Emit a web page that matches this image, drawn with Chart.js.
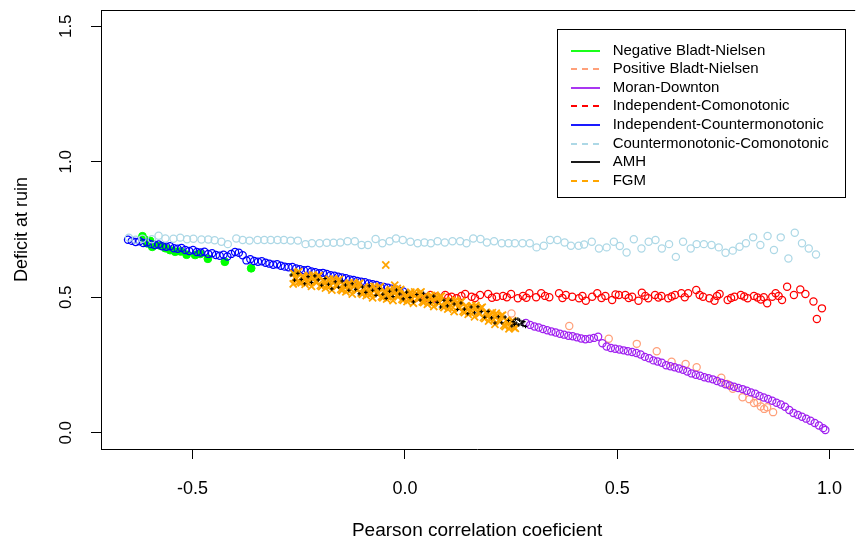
<!DOCTYPE html>
<html><head><meta charset="utf-8">
<script src="https://cdn.jsdelivr.net/npm/chart.js@4.4.1/dist/chart.umd.min.js"></script>
<style>html,body{margin:0;padding:0;background:#fff}canvas{display:block}</style>
</head><body>
<canvas id="c" width="860" height="542"></canvas>
<script>
// ---------- data ----------
const seriesNames = ["Negative Bladt-Nielsen","Positive Bladt-Nielsen","Moran-Downton","Independent-Comonotonic","Independent-Countermonotonic","Countermonotonic-Comonotonic","AMH","FGM"];
const seriesColors = ["#00FF00","#FFA07A","#A020F0","#FF0000","#0000FF","#ADD8E6","#000000","#FFA500"];
const seriesDashed = [false,true,false,true,false,true,false,true];
const xTickValues = [-0.5,0,0.5,1];
const yTickValues = [0,0.5,1,1.5];
const xTitle = "Pearson correlation coeficient";
const yTitle = "Deficit at ruin";

// Negative Bladt-Nielsen (filled green)
const nbX = [-0.618,-0.612,-0.607,-0.600,-0.595,-0.588,-0.575,-0.564,-0.553,-0.541,-0.528,-0.514,-0.494,-0.482,-0.464,-0.424,-0.362,-0.257];
const nbY = [0.725,0.712,0.699,0.708,0.686,0.693,0.690,0.681,0.674,0.668,0.669,0.657,0.656,0.660,0.642,0.631,0.607,0.589];

// Positive Bladt-Nielsen (salmon)
const pbX = [0.251,0.387,0.480,0.546,0.593,0.628,0.661,0.687,0.745,0.759,0.772,0.795,0.811,0.822,0.830,0.838,0.846,0.853,0.867];
const pbY = [0.440,0.394,0.347,0.328,0.301,0.262,0.254,0.242,0.203,0.180,0.162,0.131,0.124,0.110,0.112,0.097,0.088,0.094,0.076];

// Moran-Downton (purple)
const mdX = [0.285,0.295,0.305,0.315,0.325,0.335,0.345,0.355,0.365,0.375,0.385,0.395,0.405,0.415,0.425,0.435,0.445,0.455,0.465,0.475,0.485,0.495,0.505,0.515,0.525,0.535,0.545,0.555,0.565,0.575,0.585,0.595,0.605,0.615,0.625,0.635,0.645,0.655,0.665,0.675,0.685,0.695,0.705,0.715,0.725,0.735,0.745,0.755,0.765,0.775,0.785,0.795,0.805,0.815,0.825,0.835,0.845,0.855,0.865,0.875,0.885,0.895,0.905,0.915,0.925,0.935,0.945,0.955,0.965,0.975,0.985,0.990];
const mdY = [0.405,0.398,0.392,0.388,0.383,0.378,0.374,0.370,0.365,0.362,0.358,0.356,0.352,0.348,0.345,0.347,0.350,0.354,0.330,0.318,0.313,0.310,0.307,0.304,0.301,0.298,0.294,0.289,0.280,0.275,0.267,0.263,0.258,0.249,0.245,0.242,0.237,0.232,0.226,0.219,0.214,0.210,0.205,0.201,0.197,0.191,0.185,0.179,0.174,0.170,0.165,0.161,0.155,0.149,0.144,0.136,0.130,0.125,0.118,0.111,0.104,0.096,0.084,0.073,0.066,0.059,0.052,0.044,0.036,0.027,0.017,0.010];

// Independent-Comonotonic (red)
const icoX = [0.000,0.012,0.024,0.036,0.048,0.060,0.067,0.075,0.095,0.102,0.110,0.122,0.133,0.142,0.157,0.165,0.177,0.196,0.205,0.216,0.231,0.240,0.250,0.266,0.278,0.286,0.293,0.309,0.321,0.330,0.340,0.363,0.371,0.379,0.394,0.410,0.418,0.426,0.441,0.453,0.463,0.472,0.488,0.496,0.504,0.519,0.527,0.535,0.550,0.558,0.566,0.573,0.589,0.597,0.604,0.620,0.628,0.636,0.651,0.659,0.667,0.686,0.694,0.702,0.717,0.729,0.735,0.741,0.760,0.768,0.776,0.791,0.799,0.807,0.822,0.830,0.838,0.845,0.853,0.865,0.873,0.880,0.888,0.900,0.916,0.931,0.943,0.962,0.970,0.982];
const icoY = [0.500,0.505,0.497,0.503,0.498,0.508,0.495,0.502,0.508,0.498,0.502,0.496,0.505,0.512,0.502,0.497,0.508,0.512,0.498,0.502,0.505,0.500,0.512,0.496,0.505,0.498,0.515,0.500,0.515,0.505,0.500,0.515,0.497,0.508,0.502,0.496,0.505,0.487,0.502,0.515,0.497,0.505,0.490,0.510,0.508,0.508,0.497,0.502,0.487,0.517,0.505,0.496,0.508,0.499,0.505,0.496,0.503,0.508,0.515,0.500,0.515,0.527,0.508,0.502,0.496,0.487,0.505,0.512,0.490,0.497,0.502,0.508,0.503,0.496,0.505,0.499,0.492,0.500,0.478,0.502,0.515,0.505,0.490,0.539,0.508,0.529,0.512,0.484,0.420,0.459];

// Independent-Countermonotonic (blue)
const icmX = [-0.652,-0.643,-0.634,-0.625,-0.616,-0.607,-0.598,-0.589,-0.580,-0.571,-0.562,-0.553,-0.544,-0.535,-0.526,-0.517,-0.508,-0.499,-0.490,-0.481,-0.472,-0.463,-0.454,-0.445,-0.436,-0.427,-0.418,-0.409,-0.400,-0.391,-0.382,-0.373,-0.364,-0.355,-0.346,-0.337,-0.328,-0.319,-0.310,-0.301,-0.292,-0.283,-0.274,-0.265,-0.256,-0.247,-0.238,-0.229,-0.220,-0.211,-0.202,-0.193,-0.184,-0.175,-0.166,-0.157,-0.148,-0.139,-0.130,-0.121,-0.112,-0.103,-0.094,-0.085,-0.076,-0.067,-0.058,-0.049,-0.040,-0.031,-0.022,-0.013,-0.004];
const icmY = [0.712,0.708,0.704,0.707,0.700,0.702,0.696,0.693,0.695,0.688,0.686,0.688,0.681,0.679,0.682,0.674,0.671,0.674,0.667,0.665,0.668,0.660,0.662,0.656,0.653,0.657,0.650,0.660,0.667,0.664,0.655,0.636,0.640,0.634,0.631,0.633,0.627,0.624,0.620,0.622,0.616,0.613,0.611,0.612,0.606,0.603,0.600,0.601,0.595,0.592,0.589,0.590,0.586,0.581,0.579,0.576,0.573,0.570,0.566,0.564,0.560,0.557,0.555,0.551,0.548,0.545,0.541,0.538,0.535,0.531,0.528,0.524,0.521];

// Countermonotonic-Comonotonic (light blue)
const ccX = [-0.650,-0.634,-0.618,-0.596,-0.580,-0.564,-0.545,-0.529,-0.513,-0.498,-0.479,-0.463,-0.448,-0.432,-0.417,-0.397,-0.382,-0.366,-0.347,-0.331,-0.316,-0.300,-0.285,-0.269,-0.252,-0.234,-0.219,-0.201,-0.184,-0.168,-0.152,-0.135,-0.118,-0.102,-0.087,-0.069,-0.053,-0.036,-0.021,-0.005,0.013,0.030,0.046,0.061,0.077,0.094,0.112,0.130,0.145,0.161,0.178,0.193,0.210,0.228,0.244,0.259,0.277,0.294,0.310,0.327,0.342,0.359,0.376,0.391,0.409,0.422,0.440,0.457,0.475,0.492,0.506,0.522,0.539,0.557,0.574,0.590,0.605,0.622,0.638,0.655,0.673,0.687,0.704,0.722,0.739,0.755,0.772,0.788,0.803,0.820,0.837,0.854,0.869,0.885,0.903,0.918,0.935,0.951,0.968];
const ccY = [0.720,0.712,0.716,0.714,0.727,0.717,0.716,0.720,0.714,0.716,0.713,0.713,0.710,0.705,0.696,0.717,0.711,0.709,0.711,0.711,0.711,0.711,0.711,0.709,0.709,0.696,0.699,0.699,0.701,0.701,0.702,0.707,0.707,0.693,0.693,0.715,0.699,0.707,0.717,0.711,0.705,0.699,0.702,0.699,0.707,0.702,0.707,0.707,0.699,0.717,0.715,0.702,0.707,0.699,0.699,0.699,0.699,0.699,0.684,0.690,0.711,0.711,0.702,0.690,0.690,0.695,0.705,0.680,0.684,0.705,0.689,0.665,0.714,0.680,0.705,0.711,0.680,0.696,0.649,0.705,0.680,0.696,0.696,0.693,0.684,0.664,0.672,0.686,0.699,0.721,0.693,0.726,0.674,0.721,0.643,0.738,0.699,0.680,0.658];

// AMH (black)
const amhX = [-0.268,-0.260,-0.252,-0.244,-0.236,-0.228,-0.220,-0.212,-0.204,-0.196,-0.188,-0.180,-0.172,-0.164,-0.156,-0.148,-0.140,-0.132,-0.124,-0.116,-0.108,-0.100,-0.092,-0.084,-0.076,-0.068,-0.060,-0.052,-0.044,-0.036,-0.028,-0.020,-0.012,-0.004,0.004,0.012,0.020,0.028,0.036,0.044,0.052,0.060,0.068,0.076,0.084,0.092,0.100,0.108,0.116,0.124,0.132,0.140,0.148,0.156,0.164,0.172,0.180,0.188,0.196,0.204,0.212,0.220,0.228,0.236,0.244,0.252,0.255,0.258,0.260,0.262,0.266,0.268,0.270,0.274,0.276,0.278,0.280,0.284];
const amhY = [0.582,0.563,0.588,0.566,0.550,0.576,0.555,0.579,0.564,0.544,0.569,0.548,0.531,0.557,0.537,0.560,0.545,0.526,0.550,0.529,0.513,0.538,0.518,0.542,0.526,0.507,0.532,0.511,0.496,0.522,0.503,0.527,0.512,0.494,0.519,0.499,0.483,0.510,0.490,0.515,0.500,0.480,0.504,0.481,0.464,0.489,0.468,0.489,0.475,0.455,0.479,0.456,0.439,0.464,0.443,0.465,0.447,0.426,0.448,0.424,0.405,0.428,0.406,0.427,0.414,0.394,0.410,0.400,0.419,0.405,0.420,0.398,0.415,0.402,0.409,0.396,0.410,0.392];

// FGM (orange)
const fgmX = [-0.263,-0.262,-0.259,-0.256,-0.253,-0.251,-0.250,-0.247,-0.244,-0.241,-0.238,-0.235,-0.232,-0.229,-0.226,-0.223,-0.220,-0.217,-0.214,-0.211,-0.208,-0.205,-0.202,-0.199,-0.196,-0.193,-0.190,-0.187,-0.184,-0.181,-0.178,-0.175,-0.172,-0.169,-0.166,-0.163,-0.160,-0.157,-0.154,-0.151,-0.148,-0.145,-0.142,-0.139,-0.136,-0.133,-0.130,-0.127,-0.124,-0.121,-0.118,-0.115,-0.112,-0.109,-0.106,-0.103,-0.100,-0.097,-0.094,-0.091,-0.088,-0.085,-0.082,-0.079,-0.076,-0.073,-0.070,-0.067,-0.064,-0.061,-0.058,-0.055,-0.052,-0.049,-0.046,-0.045,-0.043,-0.040,-0.037,-0.034,-0.031,-0.028,-0.025,-0.024,-0.022,-0.019,-0.018,-0.016,-0.013,-0.010,-0.007,-0.004,-0.001,0.002,0.005,0.008,0.011,0.014,0.017,0.020,0.023,0.026,0.029,0.032,0.035,0.038,0.041,0.044,0.047,0.050,0.053,0.056,0.059,0.062,0.065,0.068,0.071,0.074,0.077,0.080,0.083,0.086,0.089,0.092,0.095,0.098,0.101,0.104,0.107,0.110,0.113,0.116,0.119,0.122,0.125,0.128,0.131,0.134,0.137,0.140,0.143,0.146,0.149,0.152,0.155,0.158,0.161,0.164,0.167,0.170,0.173,0.176,0.179,0.182,0.185,0.188,0.191,0.194,0.197,0.200,0.203,0.206,0.209,0.212,0.215,0.218,0.221,0.224,0.227,0.230,0.233,0.236,0.239,0.242,0.245,0.248,0.251,0.254,0.257,0.260];
const fgmY = [0.549,0.588,0.572,0.568,0.591,0.557,0.594,0.557,0.553,0.577,0.573,0.548,0.556,0.576,0.581,0.556,0.540,0.582,0.574,0.558,0.554,0.577,0.580,0.543,0.539,0.563,0.559,0.534,0.542,0.562,0.567,0.542,0.526,0.568,0.560,0.544,0.540,0.563,0.566,0.529,0.525,0.549,0.545,0.520,0.528,0.548,0.553,0.528,0.512,0.554,0.546,0.530,0.526,0.549,0.552,0.515,0.511,0.535,0.531,0.506,0.514,0.534,0.539,0.514,0.498,0.540,0.531,0.515,0.512,0.535,0.539,0.502,0.498,0.522,0.518,0.619,0.493,0.502,0.522,0.528,0.503,0.488,0.530,0.545,0.522,0.506,0.533,0.502,0.525,0.529,0.492,0.489,0.513,0.509,0.484,0.493,0.513,0.519,0.494,0.478,0.520,0.512,0.496,0.493,0.516,0.520,0.483,0.480,0.504,0.499,0.474,0.482,0.502,0.507,0.482,0.466,0.508,0.498,0.482,0.478,0.501,0.504,0.467,0.462,0.486,0.481,0.456,0.464,0.484,0.488,0.463,0.447,0.489,0.479,0.463,0.459,0.482,0.485,0.448,0.443,0.467,0.462,0.437,0.445,0.465,0.469,0.444,0.428,0.470,0.460,0.443,0.439,0.461,0.463,0.425,0.421,0.444,0.438,0.412,0.419,0.438,0.443,0.417,0.400,0.441,0.432,0.415,0.410,0.432,0.434,0.396,0.392,0.415,0.409,0.383,0.390,0.409,0.414,0.388,0.385];

// ---------- chart ----------
const FONT = '"Liberation Sans", Arial, Helvetica, sans-serif';
const pts = (xs, ys) => xs.map((x, i) => ({x: x, y: ys[i]}));

function hollow(idx, xs, ys, order) {
  return {label: seriesNames[idx], data: pts(xs, ys), pointStyle: 'circle', pointRadius: 3.6,
    borderColor: seriesColors[idx], backgroundColor: 'rgba(0,0,0,0)', pointBorderWidth: 1.25, borderWidth: 1.25, order: order};
}

const datasets = [
  {label: seriesNames[0], data: pts(nbX, nbY), pointStyle: 'circle', pointRadius: 3.9,
   borderColor: seriesColors[0], backgroundColor: seriesColors[0], pointBorderWidth: 1, order: 8},
  hollow(1, pbX, pbY, 7),
  hollow(2, mdX, mdY, 6),
  hollow(3, icoX, icoY, 5),
  hollow(4, icmX, icmY, 4),
  hollow(5, ccX, ccY, 3),
  {label: seriesNames[6], data: pts(amhX, amhY), pointStyle: 'cross', pointRadius: 1.8,
   borderColor: seriesColors[6], backgroundColor: seriesColors[6], pointBorderWidth: 1.1, order: 1},
  {label: seriesNames[7], data: pts(fgmX, fgmY), pointStyle: 'crossRot', pointRadius: 5,
   borderColor: seriesColors[7], backgroundColor: seriesColors[7], pointBorderWidth: 1.8, order: 2}
];

const framePlugin = {
  id: 'frame',
  afterDraw(chart) {
    const {ctx, chartArea: a} = chart;
    ctx.save();
    ctx.strokeStyle = '#000'; ctx.lineWidth = 1;
    ctx.beginPath();
    ctx.moveTo(a.left, Math.round(a.top) + 0.5);
    ctx.lineTo(a.right + 2, Math.round(a.top) + 0.5);
    ctx.stroke();
    ctx.restore();
  }
};

const insetLegend = {
  id: 'insetLegend',
  afterDatasetsDraw(chart) {
    const ctx = chart.ctx;
    ctx.save();
    const bx = 557.5, by = 29.5, bw = 288, bh = 168;
    ctx.fillStyle = '#fff'; ctx.fillRect(bx, by, bw, bh);
    ctx.strokeStyle = '#000'; ctx.lineWidth = 1; ctx.strokeRect(bx, by, bw, bh);
    ctx.font = '15px ' + FONT;
    ctx.textBaseline = 'middle'; ctx.textAlign = 'left';
    seriesNames.forEach((name, i) => {
      const y = Math.round(50.7 + i * 18.57);
      ctx.strokeStyle = seriesColors[i];
      ctx.lineWidth = 1.8;
      ctx.setLineDash(seriesDashed[i] ? [6, 5] : []);
      ctx.beginPath(); ctx.moveTo(571, y); ctx.lineTo(600, y); ctx.stroke();
      ctx.setLineDash([]);
      ctx.fillStyle = '#000';
      ctx.fillText(name, 612.7, y);
    });
    ctx.restore();
  }
};

new Chart(document.getElementById('c'), {
  type: 'scatter',
  data: {datasets: datasets},
  plugins: [insetLegend, framePlugin],
  options: {
    responsive: false, animation: false, devicePixelRatio: 1, events: [],
    layout: {padding: {top: 10, right: 0, bottom: 0, left: 0}},
    plugins: {legend: {display: false}, tooltip: {enabled: false}},
    scales: {
      x: {
        type: 'linear', min: -0.7156, max: 1.0556,
        afterBuildTicks: s => { s.ticks = xTickValues.map(v => ({value: v})); },
        afterFit: s => { s.height = 93; s.paddingLeft = 0; s.paddingRight = 0; },
        grid: {display: true, drawOnChartArea: false, drawTicks: true, tickLength: 10, tickColor: '#000', tickWidth: 1},
        border: {display: true, color: '#000', width: 1},
        ticks: {autoSkip: false, maxRotation: 0, minRotation: 0, padding: 19, color: '#000',
                font: {family: FONT, size: 18}, callback: v => Number(v).toFixed(1)},
        title: {display: true, text: xTitle, color: '#000', font: {family: FONT, size: 19}, padding: {top: 0, bottom: 0}}
      },
      y: {
        type: 'linear', min: -0.06, max: 1.56,
        afterBuildTicks: s => { s.ticks = yTickValues.map(v => ({value: v})); },
        afterFit: s => { s.width = 101; s.paddingTop = 0; s.paddingBottom = 0; },
        grid: {display: true, drawOnChartArea: false, drawTicks: true, tickLength: 10, tickColor: '#000', tickWidth: 1},
        border: {display: true, color: '#000', width: 1},
        ticks: {autoSkip: false, minRotation: 90, maxRotation: 90, crossAlign: 'center', padding: 13, color: '#000',
                font: {family: FONT, size: 17}, callback: v => Number(v).toFixed(1)},
        title: {display: true, text: yTitle, color: '#000', font: {family: FONT, size: 18}, padding: {top: 11, bottom: 0}}
      }
    }
  }
});
</script>
</body></html>
